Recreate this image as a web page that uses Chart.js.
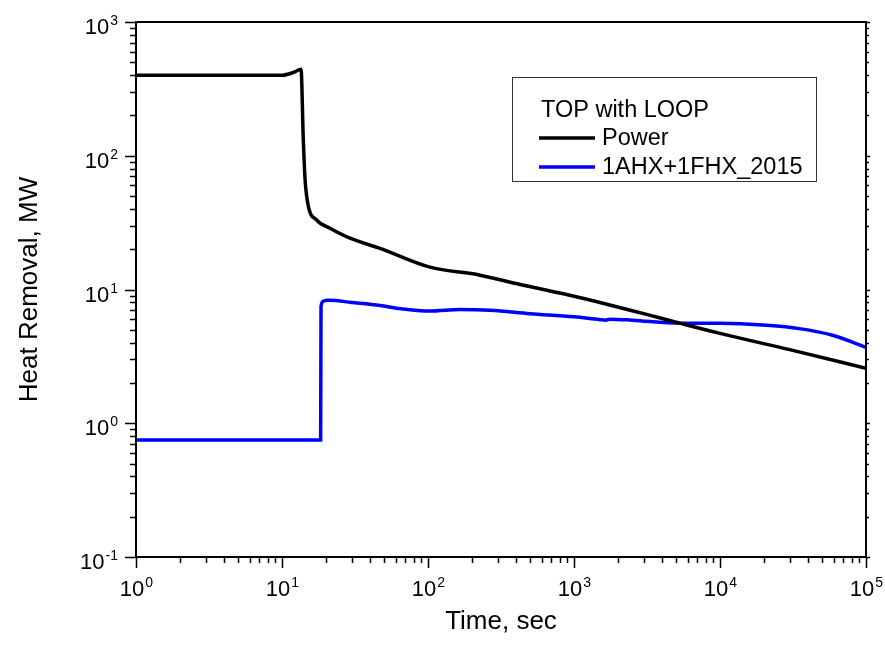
<!DOCTYPE html>
<html>
<head>
<meta charset="utf-8">
<script src="https://cdn.jsdelivr.net/npm/chart.js@4.4.1/dist/chart.umd.min.js"></script>
<style>
  html, body { margin: 0; padding: 0; background: #fff; }
  #wrap { width: 885px; height: 652px; }
</style>
</head>
<body>
<div id="wrap"><canvas id="heatChart" width="885" height="652"></canvas></div>
<script>
// Werte
const legendTitle = "TOP with LOOP";
const seriesNames = ["Power", "1AHX+1FHX_2015"];
const seriesColors = ["#000000", "#0000ff"];

const powerTime = [1, 3, 10, 12, 13.5, 14.0, 14.4, 15.1, 17.3, 21.3, 29.2, 46.9, 103, 227, 427, 1000, 1507, 3000, 5320, 10000, 30000, 100000];
const powerValues = [400, 400, 400, 420, 443, 130, 65.6, 42.7, 33, 28.7, 24.2, 20.3, 14.7, 12.8, 10.9, 8.9, 8.0, 6.6, 5.6, 4.7, 3.55, 2.58];

const loopTime = [1, 5, 18.4, 18.5, 19.3, 20.2, 21.3, 30, 46.9, 64, 103, 166, 266, 500, 1000, 1507, 1650, 1750, 2500, 5320, 10000, 21000, 35000, 59000, 100000];
const loopValues = [0.75, 0.75, 0.75, 7.5, 8.2, 8.3, 8.3, 8.0, 7.6, 7.2, 6.9, 7.1, 7.0, 6.6, 6.25, 5.95, 5.9, 6.0, 5.9, 5.6, 5.6, 5.4, 5.1, 4.55, 3.7];

// Achsen
const xMin = 1, xMax = 100000;
const yMin = 0.1, yMax = 1000;
const xTitle = "Time, sec";
const yTitle = "Heat Removal, MW";

const FONT = "'Liberation Sans', Arial, sans-serif";

function toPoints(xs, ys) {
  return xs.map((x, i) => ({ x: x, y: ys[i] }));
}

// alle log-Ticks (1..9 pro Dekade) im Bereich
function logTicks(min, max) {
  const out = [];
  for (let d = Math.floor(Math.log10(min)); d <= Math.ceil(Math.log10(max)); d++) {
    for (let m = 1; m <= 9; m++) {
      const v = m * Math.pow(10, d);
      if (v >= min * 0.999 && v <= max * 1.001) out.push({ v: v, major: m === 1, exp: d });
    }
  }
  return out;
}

function drawPow(ctx, exp, x, y, align) {
  const base = "10", sup = String(exp);
  ctx.font = "22px " + FONT;
  const wb = ctx.measureText(base).width;
  ctx.font = "14px " + FONT;
  const ws = ctx.measureText(sup).width;
  const total = wb + ws;
  let start = align === "center" ? x - total / 2 : x - total;
  ctx.textAlign = "left";
  ctx.textBaseline = "alphabetic";
  ctx.font = "22px " + FONT;
  ctx.fillText(base, start, y);
  ctx.font = "14px " + FONT;
  ctx.fillText(sup, start + wb + 1, y - 9);
}

// Rahmen, Ticks, Beschriftungen und Legende selber zeichnen
const framePlugin = {
  id: "frame",
  afterDraw(chart) {
    const ctx = chart.ctx;
    const { left, right, top, bottom } = chart.chartArea;
    const xs = chart.scales.x, ys = chart.scales.y;
    ctx.save();
    ctx.strokeStyle = "#000";
    ctx.fillStyle = "#000";
    ctx.lineWidth = 2;
    ctx.strokeRect(left, top, right - left, bottom - top);

    ctx.lineWidth = 1.5;
    ctx.beginPath();
    logTicks(xMin, xMax).forEach(t => {
      const px = Math.round(xs.getPixelForValue(t.v)) + 0.5;
      ctx.moveTo(px, bottom);
      ctx.lineTo(px, bottom + (t.major ? 11 : 6));
    });
    logTicks(yMin, yMax).forEach(t => {
      const py = Math.round(ys.getPixelForValue(t.v)) + 0.5;
      ctx.moveTo(left, py);
      ctx.lineTo(left - (t.major ? 11 : 6), py);
      ctx.moveTo(right, py);
      ctx.lineTo(right + (t.major ? 4 : 3), py);
    });
    ctx.stroke();

    // Tick-Labels
    logTicks(xMin, xMax).filter(t => t.major).forEach(t => {
      drawPow(ctx, t.exp, xs.getPixelForValue(t.v), bottom + 39, "center");
    });
    logTicks(yMin, yMax).filter(t => t.major).forEach(t => {
      drawPow(ctx, t.exp, left - 19, ys.getPixelForValue(t.v) + 12, "right");
    });

    // Achsentitel
    ctx.font = "26px " + FONT;
    ctx.textAlign = "center";
    ctx.textBaseline = "middle";
    ctx.fillText(xTitle, (left + right) / 2, 622);
    ctx.save();
    ctx.translate(30, (top + bottom) / 2);
    ctx.rotate(-Math.PI / 2);
    ctx.fillText(yTitle, 0, 0);
    ctx.restore();

    // Legende
    ctx.lineWidth = 1;
    ctx.strokeStyle = "#333";
    ctx.strokeRect(512.5, 77.5, 304, 104);
    ctx.font = "23.5px " + FONT;
    ctx.textAlign = "left";
    ctx.textBaseline = "middle";
    ctx.fillText(legendTitle, 541, 111);
    chart.data.datasets.forEach((ds, i) => {
      const ly = 138 + i * 29;
      ctx.strokeStyle = ds.borderColor;
      ctx.lineWidth = 3.5;
      ctx.beginPath();
      ctx.moveTo(539, ly);
      ctx.lineTo(595, ly);
      ctx.stroke();
      ctx.fillStyle = "#000";
      ctx.fillText(ds.label, 602, ly + 1);
    });
    ctx.restore();
  }
};

const ctx = document.getElementById("heatChart").getContext("2d");

new Chart(ctx, {
  type: "line",
  data: {
    datasets: [
      {
        label: seriesNames[0],
        data: toPoints(powerTime, powerValues),
        borderColor: seriesColors[0],
        borderWidth: 3.5,
        pointRadius: 0,
        cubicInterpolationMode: "monotone",
        fill: false,
      },
      {
        label: seriesNames[1],
        data: toPoints(loopTime, loopValues),
        borderColor: seriesColors[1],
        borderWidth: 3.5,
        pointRadius: 0,
        cubicInterpolationMode: "monotone",
        fill: false,
      },
    ],
  },
  options: {
    responsive: false,
    animation: false,
    layout: { padding: { top: 22, right: 19, bottom: 0, left: 0 } },
    plugins: { legend: { display: false }, tooltip: { enabled: false } },
    scales: {
      x: {
        type: "logarithmic",
        min: xMin,
        max: xMax,
        grid: { display: false },
        border: { display: false },
        ticks: { display: false },
        afterFit: (s) => { s.height = 95; },
      },
      y: {
        type: "logarithmic",
        min: yMin,
        max: yMax,
        grid: { display: false },
        border: { display: false },
        ticks: { display: false },
        afterFit: (s) => { s.width = 136; },
      },
    },
  },
  plugins: [framePlugin],
});
</script>
</body>
</html>
